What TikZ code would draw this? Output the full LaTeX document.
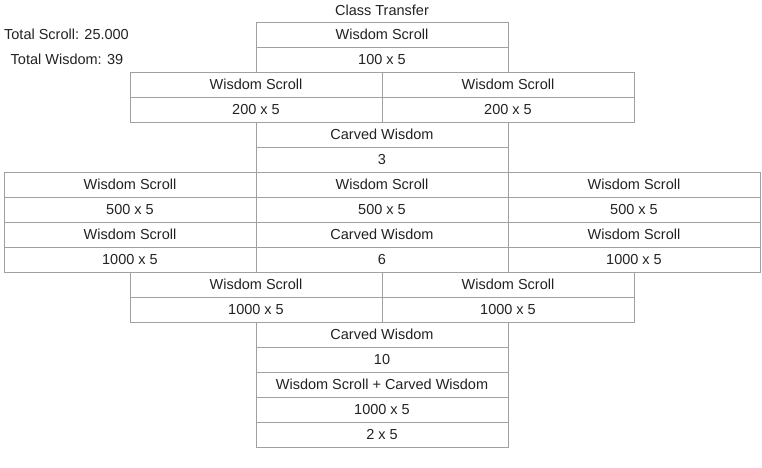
\documentclass[tikz,border=0pt]{standalone}
\usepackage{fontspec}
\setmainfont{Liberation Sans}
\usetikzlibrary{positioning}
\definecolor{gridline}{RGB}{160, 160, 160}
\definecolor{ink}{RGB}{34, 34, 34}

\tikzset{
    cell/.style={draw=gridline, line width=1pt, minimum width=252pt, minimum height=25pt,
        inner sep=0pt, text=ink, font=\fontsize{14.5}{16}\selectfont},
    plain/.style={text=ink, inner sep=0pt, font=\fontsize{14.5}{16}\selectfont}
}

\begin{document}
\begin{tikzpicture}[x=1pt, y=-1pt]
    \useasboundingbox (0,0) rectangle (762,467);
    % 标题和合计
    \node[plain] (title) at (382,10) {Class Transfer};
    \node[plain] (totalscroll) at (66.5,34.5) {Total Scroll: 25.000};
    \node[plain] (totalwisdom) at (67,59.5) {Total Wisdom: 39};

    % 第一层
    \node[cell] (top1) at (382,34.5) {Wisdom Scroll};
    \node[cell] (top2) at (382,59.5) {100 x 5};

    \node[cell] (la1) at (256,84.5) {Wisdom Scroll};
    \node[cell] (la2) at (256,109.5) {200 x 5};
    \node[cell] (ra1) at (508,84.5) {Wisdom Scroll};
    \node[cell] (ra2) at (508,109.5) {200 x 5};

    \node[cell] (cw1) at (382,134.5) {Carved Wisdom};
    \node[cell] (cw2) at (382,159.5) {3};

    % 第二层
    \node[cell] (lb1) at (130,184.5) {Wisdom Scroll};
    \node[cell] (lb2) at (130,209.5) {500 x 5};
    \node[cell] (mb1) at (382,184.5) {Wisdom Scroll};
    \node[cell] (mb2) at (382,209.5) {500 x 5};
    \node[cell] (rb1) at (634,184.5) {Wisdom Scroll};
    \node[cell] (rb2) at (634,209.5) {500 x 5};

    \node[cell] (lc1) at (130,234.5) {Wisdom Scroll};
    \node[cell] (lc2) at (130,259.5) {1000 x 5};
    \node[cell] (mc1) at (382,234.5) {Carved Wisdom};
    \node[cell] (mc2) at (382,259.5) {6};
    \node[cell] (rc1) at (634,234.5) {Wisdom Scroll};
    \node[cell] (rc2) at (634,259.5) {1000 x 5};

    % 第三层
    \node[cell] (ld1) at (256,284.5) {Wisdom Scroll};
    \node[cell] (ld2) at (256,309.5) {1000 x 5};
    \node[cell] (rd1) at (508,284.5) {Wisdom Scroll};
    \node[cell] (rd2) at (508,309.5) {1000 x 5};

    \node[cell] (cx1) at (382,334.5) {Carved Wisdom};
    \node[cell] (cx2) at (382,359.5) {10};
    \node[cell] (fin1) at (382,384.5) {Wisdom Scroll + Carved Wisdom};
    \node[cell] (fin2) at (382,409.5) {1000 x 5};
    \node[cell] (fin3) at (382,434.5) {2 x 5};
\end{tikzpicture}
\end{document}
